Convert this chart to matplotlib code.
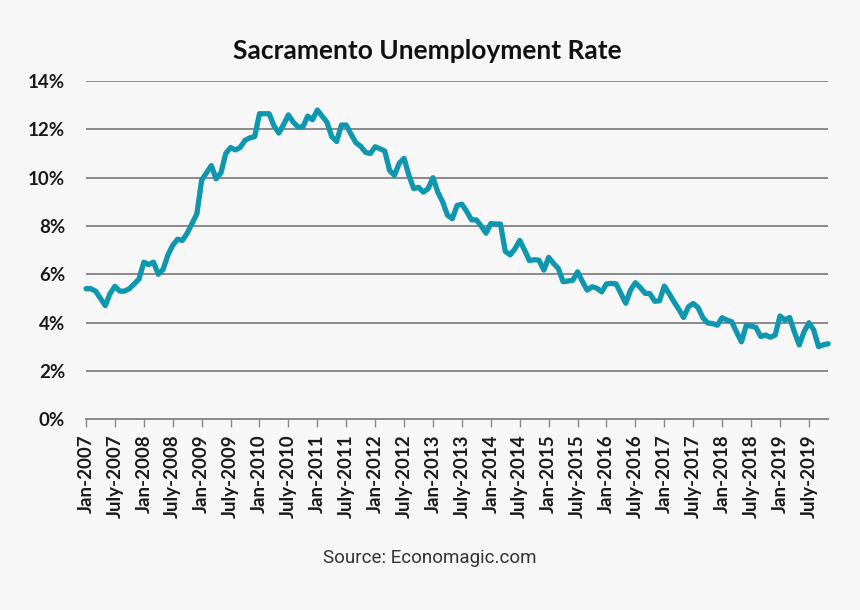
import numpy as np
import matplotlib.pyplot as plt

# monthly unemployment rate, Jan-2007 .. Nov-2019
rate_2007 = [5.4, 5.4, 5.3, 5.0, 4.7, 5.2, 5.5, 5.3, 5.3, 5.4, 5.6, 5.8]
rate_2008 = [6.5, 6.4, 6.5, 6.0, 6.2, 6.8, 7.2, 7.45, 7.4, 7.7, 8.1, 8.5]
rate_2009 = [9.9, 10.2, 10.5, 9.95, 10.2, 11.0, 11.25, 11.15, 11.25, 11.55, 11.65, 11.7]
rate_2010 = [12.65, 12.65, 12.65, 12.15, 11.85, 12.2, 12.6, 12.3, 12.1, 12.1, 12.55, 12.4]
rate_2011 = [12.8, 12.55, 12.3, 11.7, 11.5, 12.18, 12.18, 11.8, 11.45, 11.3, 11.05, 11.0]
rate_2012 = [11.28, 11.2, 11.1, 10.3, 10.1, 10.6, 10.8, 10.1, 9.55, 9.6, 9.4, 9.55]
rate_2013 = [10.0, 9.4, 9.0, 8.45, 8.3, 8.85, 8.9, 8.6, 8.25, 8.25, 8.0, 7.7]
rate_2014 = [8.1, 8.08, 8.08, 6.95, 6.8, 7.05, 7.4, 7.0, 6.57, 6.6, 6.58, 6.17]
rate_2015 = [6.7, 6.45, 6.24, 5.69, 5.72, 5.75, 6.1, 5.7, 5.34, 5.48, 5.42, 5.27]
rate_2016 = [5.6, 5.62, 5.6, 5.2, 4.8, 5.35, 5.65, 5.45, 5.21, 5.2, 4.88, 4.9]
rate_2017 = [5.51, 5.2, 4.86, 4.55, 4.21, 4.65, 4.79, 4.62, 4.2, 3.98, 3.96, 3.89]
rate_2018 = [4.2, 4.1, 4.03, 3.6, 3.2, 3.88, 3.85, 3.8, 3.42, 3.48, 3.39, 3.48]
rate_2019 = [4.27, 4.1, 4.21, 3.6, 3.07, 3.62, 3.99, 3.69, 3.0, 3.08, 3.12]

rate = (rate_2007 + rate_2008 + rate_2009 + rate_2010 + rate_2011 + rate_2012 +
        rate_2013 + rate_2014 + rate_2015 + rate_2016 + rate_2017 + rate_2018 + rate_2019)
months = np.arange(len(rate))

years = list(range(2007, 2020))
tick_labels = []
for yr in years:
    tick_labels += ["Jan-%d" % yr, "July-%d" % yr]
tick_pos = np.arange(len(tick_labels)) * 6

y_ticks = [0, 2, 4, 6, 8, 10, 12, 14]

bg = '#f7f7f7'
fig = plt.figure(figsize=(8.6, 6.1), dpi=100, facecolor=bg)
ax = fig.add_axes([0.1, 0.313, 0.863, 0.554])
ax.set_facecolor(bg)

for v in y_ticks[1:]:
    ax.axhline(v, color='#8a8a8a', lw=1.4, zorder=1)

ax.plot(months, rate, color='#0e97af', lw=3.8, solid_joinstyle='round',
        solid_capstyle='round', zorder=3, clip_on=False)

ax.set_xlim(0, 154)
ax.set_ylim(0, 14)

for s in ['top', 'right', 'left']:
    ax.spines[s].set_visible(False)
ax.spines['bottom'].set_color('#8a8a8a')
ax.spines['bottom'].set_linewidth(1.4)

ax.set_yticks(y_ticks)
ax.set_yticklabels(["%d%%" % v for v in y_ticks], fontsize=13.5,
                   fontweight='bold', family='Lato', color='#1a1a1a')
ax.tick_params(axis='y', length=0, pad=15)

ax.set_xticks(tick_pos)
ax.set_xticklabels(tick_labels, rotation=90, fontsize=13.5, fontweight='bold',
                   family='Lato', color='#1a1a1a')
ax.tick_params(axis='x', length=6, width=1, color='#8a8a8a', pad=5)

fig.text(0.497, 0.917, "Sacramento Unemployment Rate", ha='center', va='center',
         fontsize=19, fontweight='bold', family='Lato', color='#111111')
fig.text(0.5, 0.085, "Source: Economagic.com", ha='center', va='center',
         fontsize=13.5, family='Roboto', color='#333333')

fig.savefig('out.png', dpi=100, facecolor=bg)
